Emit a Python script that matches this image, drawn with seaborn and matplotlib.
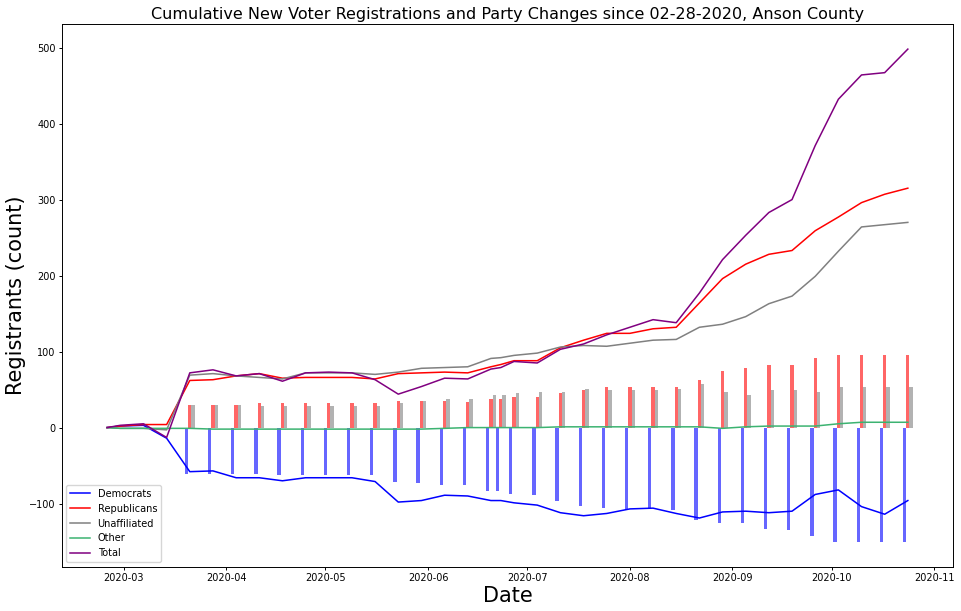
import matplotlib
matplotlib.use("Agg")
import matplotlib.pyplot as plt
import matplotlib.dates as mdates
import pandas as pd
import seaborn as sns

# weekly snapshot dates
dates = pd.to_datetime([
    "2020-02-25", "2020-02-29", "2020-03-07", "2020-03-14", "2020-03-21", "2020-03-28",
    "2020-04-04", "2020-04-11", "2020-04-18", "2020-04-25", "2020-05-02", "2020-05-09",
    "2020-05-16", "2020-05-23", "2020-05-30", "2020-06-06", "2020-06-13", "2020-06-20",
    "2020-06-23", "2020-06-27", "2020-07-04", "2020-07-11", "2020-07-18", "2020-07-25",
    "2020-08-01", "2020-08-08", "2020-08-15", "2020-08-22", "2020-08-29", "2020-09-05",
    "2020-09-12", "2020-09-19", "2020-09-26", "2020-10-03", "2020-10-10", "2020-10-17",
    "2020-10-24",
])

# cumulative new registrations (lines)
democrats = [0, 2, 3, -14, -58, -57, -66, -66, -70, -66, -66, -66, -71, -98, -96, -89, -90, -96,
             -96, -99, -102, -112, -116, -113, -107, -106, -113, -119, -111, -110, -112, -110,
             -88, -82, -104, -114, -96]
republicans = [0, 2, 4, 4, 62, 63, 68, 71, 65, 66, 66, 66, 64, 71, 72, 73, 72, 80,
               83, 88, 88, 105, 115, 124, 124, 130, 132, 164, 196, 215, 228, 233,
               259, 277, 296, 307, 315]
unaffiliated = [0, -1, -1, -3, 69, 71, 68, 66, 64, 72, 72, 72, 70, 73, 78, 79, 80, 91,
                92, 95, 98, 106, 108, 107, 111, 115, 116, 132, 136, 146, 163, 173,
                199, 232, 264, 267, 270]
other = [0, -1, -1, -1, -1, -2, -2, -2, -2, -2, -2, -2, -2, -2, -2, -1, 0, 0,
         0, 0, 0, 1, 1, 1, 1, 1, 1, 1, -1, 1, 2, 2,
         2, 5, 7, 7, 7]
total = [0, 3, 5, -13, 72, 76, 68, 71, 61, 72, 73, 72, 63, 44, 54, 65, 64, 77,
         79, 87, 85, 103, 110, 122, 132, 142, 138, 177, 221, 253, 283, 300,
         371, 432, 464, 467, 498]

# cumulative party changes (bars)
dem_changes = [0, 0, 0, -3, -61, -61, -61, -61, -62, -63, -63, -63, -63, -71, -73, -75, -75, -84,
               -84, -88, -89, -96, -103, -106, -108, -107, -109, -122, -125, -126, -134, -135,
               -143, -151, -151, -151, -151]
rep_changes = [0, 0, 0, 0, 30, 30, 30, 33, 33, 33, 33, 33, 33, 35, 35, 35, 34, 38,
               38, 40, 40, 45, 50, 54, 54, 53, 54, 63, 75, 78, 82, 83,
               92, 95, 95, 95, 95]
una_changes = [0, 0, 0, 0, 30, 30, 30, 28, 28, 29, 29, 29, 29, 33, 35, 37, 38, 43,
               43, 45, 47, 47, 51, 49, 50, 50, 51, 57, 47, 43, 50, 49,
               47, 53, 53, 53, 53]

fig, ax = plt.subplots(figsize=(9.62, 6.11), dpi=100)
fig.subplots_adjust(left=0.064, right=0.991, top=0.960, bottom=0.072)

day = pd.Timedelta(days=1)
ax.bar(dates - day, dem_changes, width=1, color="blue", alpha=0.6)
ax.bar(dates, rep_changes, width=1, color="red", alpha=0.6)
ax.bar(dates + day, una_changes, width=1, color="gray", alpha=0.6)

lw = 1.1
sns.lineplot(x=dates, y=democrats, color="blue", label="Democrats", linewidth=lw, ax=ax)
sns.lineplot(x=dates, y=republicans, color="red", label="Republicans", linewidth=lw, ax=ax)
sns.lineplot(x=dates, y=unaffiliated, color="gray", label="Unaffiliated", linewidth=lw, ax=ax)
sns.lineplot(x=dates, y=other, color="mediumseagreen", label="Other", linewidth=lw, ax=ax)
sns.lineplot(x=dates, y=total, color="purple", label="Total", linewidth=lw, ax=ax)

ax.xaxis.set_major_locator(mdates.MonthLocator())
ax.xaxis.set_major_formatter(mdates.DateFormatter("%Y-%m"))
ax.tick_params(labelsize=7, length=2.2, pad=2.2, width=0.7)
for s in ax.spines.values():
    s.set_linewidth(0.7)

ax.set_title("Cumulative New Voter Registrations and Party Changes since 02-28-2020, Anson County",
             fontsize=11.5, pad=3.8)
ax.set_xlabel("Date", fontsize=15, labelpad=2.4)
ax.set_ylabel("Registrants (count)", fontsize=15, labelpad=2.4)
ax.legend(loc="lower left", fontsize=7)

plt.savefig("out.png", dpi=100)
